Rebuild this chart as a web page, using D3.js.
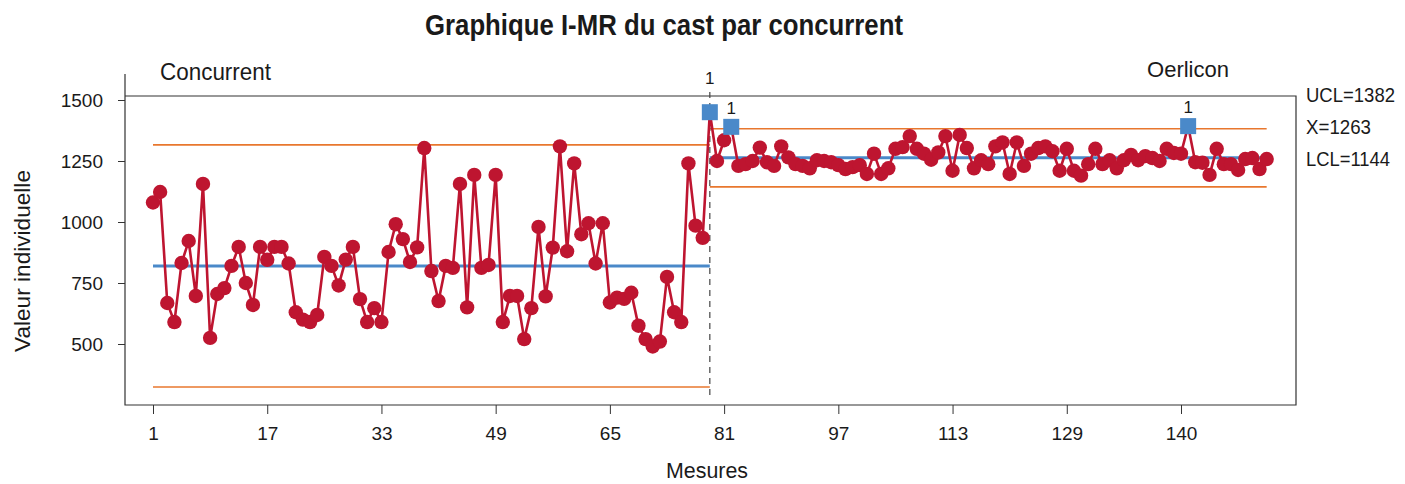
<!DOCTYPE html>
<html><head><meta charset="utf-8">
<script src="https://cdn.jsdelivr.net/npm/d3@7"></script>
<style>
body{margin:0;background:#fff;}
text{font-family:"Liberation Sans","Arial",sans-serif;fill:#1a1a1a;}
</style></head><body>
<svg id="c" width="1405" height="484"></svg>
<script>
// ---------- data ----------
const concurrentValues = [1080,1123,668,590,832,922,697,1156,525,705,729,820,898,750,660,898,845,898,898,830,
  630,600,590,619,857,820,740,846,898,684,590,647,590,877,991,930,836,896,1303,799,
  676,820,812,1156,650,1193,812,824,1193,590,697,697,520,647,980,695,895,1310,880,1240,
  950,995,830,995,670,690,685,710,575,520,490,510,775,630,590,1240,985,935];
const oerliconValues = [1450,1250,1335,1390,1230,1237,1250,1305,1245,1230,1310,1265,1237,1230,1220,1253,1250,1245,1233,1217,
  1225,1233,1197,1280,1197,1220,1300,1307,1352,1300,1280,1255,1285,1352,1210,1357,1303,1220,1253,1237,
  1310,1326,1197,1326,1230,1280,1303,1310,1290,1210,1300,1210,1190,1237,1300,1237,1253,1220,1253,1275,
  1253,1270,1262,1250,1300,1283,1280,1393,1245,1243,1193,1300,1237,1237,1213,1258,1262,1217,1258];
const stageNames = ["Concurrent", "Oerlicon"];
const stageUCL = [1316, 1382];
const stageCL = [820, 1263];
const stageLCL = [324, 1144];
const yTicks = [500, 750, 1000, 1250, 1500];
const xTickPositions = [1, 17, 33, 49, 65, 81, 97, 113, 129, 145];
const xTickLabels = ["1", "17", "33", "49", "65", "81", "97", "113", "129", "140"];
const limitLabels = ["UCL=1382", "X=1263", "LCL=1144"];

// ---------- build ----------
const stages = [concurrentValues, oerliconValues];
const points = [];
let idx = 1;
stages.forEach((vals, s) => vals.forEach(v => {
  points.push({i: idx++, v, s, flag: v > stageUCL[s] || v < stageLCL[s]});
}));
const stageStart = [1, concurrentValues.length + 1];
const stageEnd = [concurrentValues.length + 1, points.length];

const svg = d3.select("#c");
const L = 125, R = 1296, T = 96, B = 405, axisTop = 74;
const x = d3.scaleLinear().domain([1, 145]).range([153, 1181]);
const y = d3.scaleLinear().domain([500, 1500]).range([344, 100]);

const red = "#BE1530", blue = "#4A89C9", orange = "#E8772E";

function fit(sel, w) { return sel.attr("textLength", w).attr("lengthAdjust", "spacingAndGlyphs"); }

// frame
svg.append("path").attr("d", `M${L},${axisTop}V${B}H${R}V${T}H${L}`)
  .attr("fill", "none").attr("stroke", "#333").attr("stroke-width", 1.2);

// y axis
const yAxis = svg.append("g").attr("transform", `translate(${L},0)`)
  .call(d3.axisLeft(y).tickValues(yTicks).tickSize(7).tickPadding(15).tickFormat(d3.format("d")));
yAxis.select(".domain").remove();
yAxis.selectAll("line").attr("stroke", "#333");
yAxis.selectAll("text").style("font-size", "19px").attr("fill", "#1a1a1a");

// x axis
const xAxis = svg.append("g").attr("transform", `translate(0,${B})`)
  .call(d3.axisBottom(x).tickValues(xTickPositions).tickSize(9).tickPadding(13)
    .tickFormat((d, k) => xTickLabels[k]));
xAxis.select(".domain").remove();
xAxis.selectAll("line").attr("stroke", "#333");
xAxis.selectAll("text").style("font-size", "19px").attr("fill", "#1a1a1a");

// limit lines
stages.forEach((vals, s) => {
  const x0 = x(stageStart[s]), x1 = x(stageEnd[s]);
  [stageUCL[s], stageLCL[s]].forEach(v => svg.append("line")
    .attr("x1", x0).attr("x2", x1).attr("y1", y(v)).attr("y2", y(v))
    .attr("stroke", orange).attr("stroke-width", 1.6));
  svg.append("line").attr("x1", x0).attr("x2", x1).attr("y1", y(stageCL[s])).attr("y2", y(stageCL[s]))
    .attr("stroke", blue).attr("stroke-width", 3);
});

// stage divider
svg.append("line").attr("x1", x(stageStart[1])).attr("x2", x(stageStart[1]))
  .attr("y1", T - 4).attr("y2", B - 5)
  .attr("stroke", "#444").attr("stroke-width", 1.2).attr("stroke-dasharray", "6,5");

// series line
svg.append("path").datum(points)
  .attr("d", d3.line().x(d => x(d.i)).y(d => y(d.v)))
  .attr("fill", "none").attr("stroke", red).attr("stroke-width", 2.6);

// markers
svg.selectAll("circle.pt").data(points.filter(d => !d.flag)).join("circle")
  .attr("class", "pt").attr("cx", d => x(d.i)).attr("cy", d => y(d.v)).attr("r", 7.2).attr("fill", red);
svg.selectAll("rect.fl").data(points.filter(d => d.flag)).join("rect")
  .attr("class", "fl").attr("x", d => x(d.i) - 8).attr("y", d => y(d.v) - 8)
  .attr("width", 16).attr("height", 16).attr("fill", blue);
svg.selectAll("text.fl").data(points.filter(d => d.flag)).join("text")
  .attr("class", "fl").attr("x", d => x(d.i))
  .attr("y", d => { let ly = y(d.v) - 13; if (ly > T - 12 && ly < T + 16) ly = T - 12; return ly; })
  .attr("text-anchor", "middle").style("font-size", "17px").attr("fill", "#333").text("1");

// stage names
fit(svg.append("text").attr("x", 160).attr("y", 80).style("font-size", "23px").text(stageNames[0]), 111);
fit(svg.append("text").attr("x", 1147).attr("y", 77).style("font-size", "22px").text(stageNames[1]), 82);

// limit labels
const limW = [89, 65, 84];
limitLabels.forEach((t, k) => fit(svg.append("text").attr("x", 1306).attr("y", 102 + k * 32)
  .style("font-size", "20px").text(t), limW[k]));

// titles
fit(svg.append("text").attr("x", 425).attr("y", 35)
  .style("font-size", "30px").style("font-weight", "bold").text("Graphique I-MR du cast par concurrent"), 478);
fit(svg.append("text").attr("x", 666).attr("y", 478)
  .style("font-size", "22px").text("Mesures"), 82);
fit(svg.append("text").attr("transform", "translate(30,352) rotate(-90)")
  .style("font-size", "22px").text("Valeur individuelle"), 182);
</script></body></html>
